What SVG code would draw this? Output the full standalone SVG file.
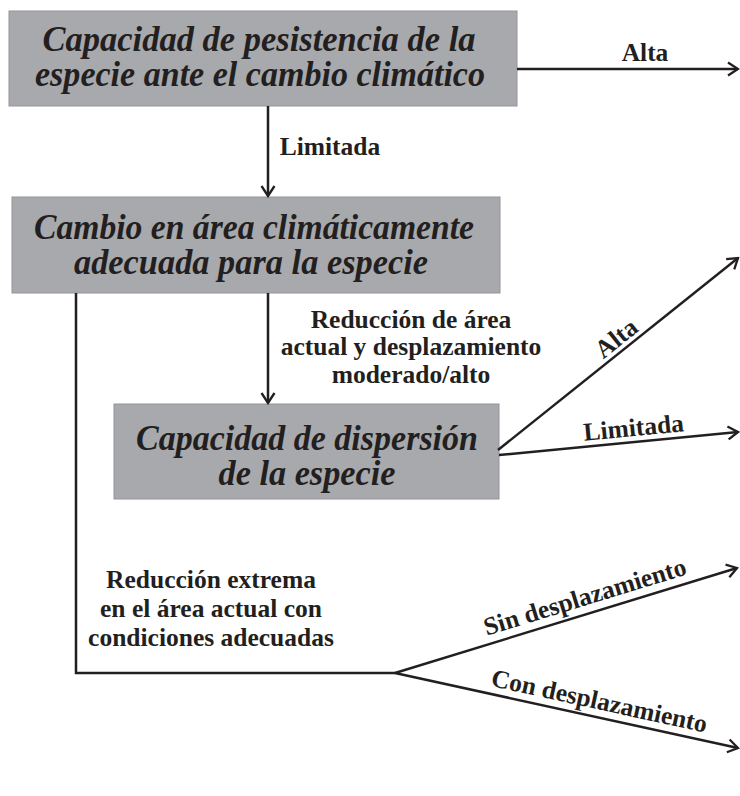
<svg xmlns="http://www.w3.org/2000/svg" width="740" height="796" viewBox="0 0 740 796">
<style>
.box{fill:#a7a9ac;stroke:#939598;stroke-width:1}
.bt{font-family:"Liberation Serif","Times New Roman",serif;font-weight:bold;font-style:italic;font-size:36px;fill:#231f20;text-anchor:middle}
.lb{font-family:"Liberation Serif","Times New Roman",serif;font-weight:bold;font-size:25.5px;fill:#231f20;text-anchor:middle}
.ln{fill:none;stroke:#231f20;stroke-width:2.5}
</style>
<defs>
<marker id="arr" viewBox="-12 -8 14 16" refX="0" refY="0" markerWidth="14" markerHeight="16" markerUnits="userSpaceOnUse" orient="auto">
<path d="M-10,-6.5 L0,0 L-10,6.5" fill="none" stroke="#231f20" stroke-width="2.3"/>
</marker>
</defs>
<g id="n1">
<rect class="box" x="9" y="11" width="508" height="95"/>
<text class="bt" x="259" y="51" textLength="433" lengthAdjust="spacingAndGlyphs">Capacidad de pesistencia de la</text>
<text class="bt" x="260" y="86" textLength="450" lengthAdjust="spacingAndGlyphs">especie ante el cambio climático</text>
</g>
<g id="n2">
<rect class="box" x="12" y="197" width="488" height="96"/>
<text class="bt" x="254" y="239" textLength="440" lengthAdjust="spacingAndGlyphs">Cambio en área climáticamente</text>
<text class="bt" x="251" y="274" textLength="354" lengthAdjust="spacingAndGlyphs">adecuada para la especie</text>
</g>
<g id="n3">
<rect class="box" x="114" y="404" width="385" height="95"/>
<text class="bt" x="307" y="450" textLength="342" lengthAdjust="spacingAndGlyphs">Capacidad de dispersión</text>
<text class="bt" x="307" y="485" textLength="177" lengthAdjust="spacingAndGlyphs">de la especie</text>
</g>
<g id="connectors">
<line class="ln" x1="517" y1="69" x2="738" y2="69" marker-end="url(#arr)"/>
<text class="lb" x="645" y="61">Alta</text>
<line class="ln" x1="268" y1="106" x2="268" y2="196" marker-end="url(#arr)"/>
<text class="lb" x="330" y="155">Limitada</text>
<line class="ln" x1="268" y1="293" x2="268" y2="403" marker-end="url(#arr)"/>
<text class="lb" x="411" y="328">Reducción de área</text>
<text class="lb" x="411" y="355">actual y desplazamiento</text>
<text class="lb" x="411" y="383">moderado/alto</text>
<line class="ln" x1="498" y1="450" x2="738" y2="258" marker-end="url(#arr)"/>
<text class="lb" transform="translate(624.5,348.7) rotate(-38.7)" x="0" y="-5">Alta</text>
<line class="ln" x1="499" y1="455" x2="738" y2="432" marker-end="url(#arr)"/>
<text class="lb" transform="translate(635,442) rotate(-5.5)" x="0" y="-6">Limitada</text>
<polyline class="ln" points="76,293 76,673 395,673"/>
<text class="lb" x="211" y="588">Reducción extrema</text>
<text class="lb" x="211" y="617">en el área actual con</text>
<text class="lb" x="211" y="646">condiciones adecuadas</text>
<line class="ln" x1="395" y1="673" x2="737" y2="568" marker-end="url(#arr)"/>
<text class="lb" transform="translate(590,613.5) rotate(-17.1)" x="0" y="-9">Sin desplazamiento</text>
<line class="ln" x1="395" y1="673" x2="738" y2="748" marker-end="url(#arr)"/>
<text class="lb" transform="translate(596,717) rotate(12.3)" x="0" y="-8">Con desplazamiento</text>
</g>
</svg>
